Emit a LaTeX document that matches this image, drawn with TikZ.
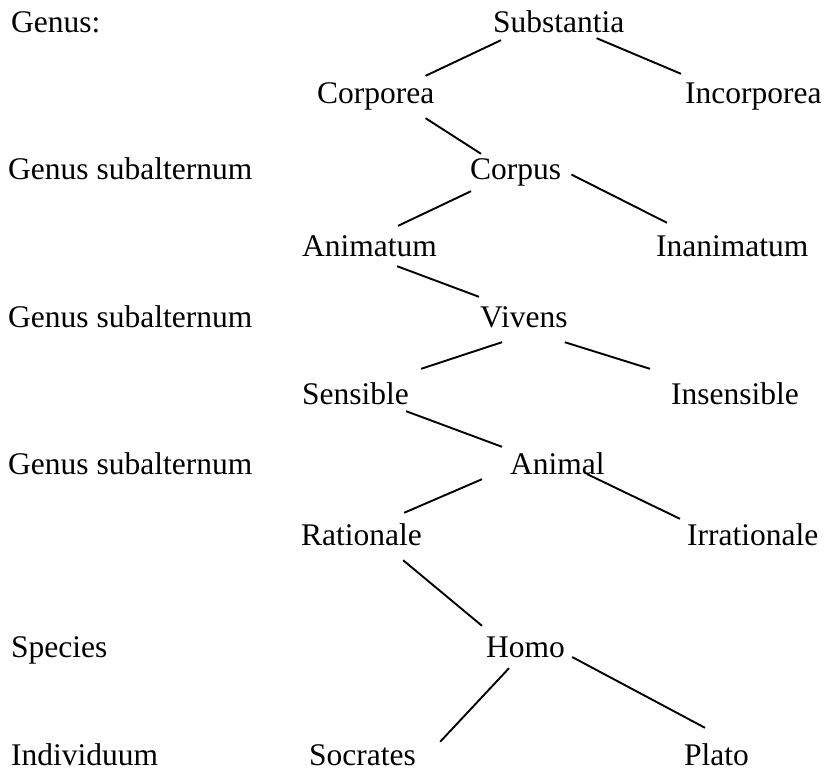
\documentclass[tikz,border=0pt]{standalone}
\usepackage{fontspec}
\setmainfont{Liberation Serif}
\usetikzlibrary{positioning,calc}

\begin{document}
\begin{tikzpicture}[x=1pt,y=-1pt,
    term/.style={inner sep=0pt,anchor=base west,text height=22pt,text depth=7pt,
      font=\fontsize{31.5}{38}\selectfont},
    branch/.style={line width=1.9pt}]
    \useasboundingbox (0,0) rectangle (825,772);

    % Left column: grades
    \node[term] (genus)  at (11,32)  {Genus:};
    \node[term] (gsubA)  at (8,179)  {Genus subalternum};
    \node[term] (gsubB)  at (8,327)  {Genus subalternum};
    \node[term] (gsubC)  at (8,474)  {Genus subalternum};
    \node[term] (species) at (11,657) {Species};
    \node[term] (indiv)  at (11,765) {Individuum};

    % The tree
    \node[term] (subst)      at (493,32)  {Substantia};
    \node[term] (corporea)   at (317,103) {Corporea};
    \node[term] (incorporea) at (685,103) {Incorporea};
    \node[term] (corpus)     at (470,179) {Corpus};
    \node[term] (animatum)   at (302,256) {Animatum};
    \node[term] (inanimatum) at (656,256) {Inanimatum};
    \node[term] (vivens)     at (480,327) {Vivens};
    \node[term] (sensibile)  at (302,404) {Sensible};
    \node[term] (insensibile) at (671,404) {Insensible};
    \node[term] (animal)     at (510,474) {Animal};
    \node[term] (rationale)  at (301,545) {Rationale};
    \node[term] (irrationale) at (687,545) {Irrationale};
    \node[term] (homo)       at (486,657) {Homo};
    \node[term] (socrates)   at (309,765) {Socrates};
    \node[term] (plato)      at (684,765) {Plato};

    % Branches
    \draw[branch] ([shift={(8,1)}]subst.south west) -- ([shift={(-9,-5)}]corporea.north east);
    \draw[branch] ([shift={(-28,-1)}]subst.south east) -- ([shift={(-4,-7)}]incorporea.north west);
    \draw[branch] ([shift={(-9,8)}]corporea.south east) -- ([shift={(11,-3)}]corpus.north west);
    \draw[branch] ([shift={(10,3)}]corpus.east) -- ([shift={(11,-11)}]inanimatum.north west);
    \draw[branch] ([shift={(1,5)}]corpus.south west) -- ([shift={(-39,-8)}]animatum.north east);
    \draw[branch] ([shift={(-40,3)}]animatum.south east) -- ([shift={(-1,-8)}]vivens.north west);
    \draw[branch] ([shift={(22,8)}]vivens.south west) -- ([shift={(12,-13)}]sensibile.north east);
    \draw[branch] ([shift={(-3,8)}]vivens.south east) -- ([shift={(-21,-13)}]insensibile.north west);
    \draw[branch] ([shift={(-3,0)}]sensibile.south east) -- ([shift={(-8,-5)}]animal.north west);
    \draw[branch] ([shift={(-18,0)}]animal.base east) -- ([shift={(-7,-4)}]irrationale.north west);
    \draw[branch] ([shift={(-28,-2)}]animal.south west) -- ([shift={(-18,-10)}]rationale.north east);
    \draw[branch] ([shift={(-19,8)}]rationale.south east) -- ([shift={(-4,-9)}]homo.north west);
    \draw[branch] ([shift={(7,0)}]homo.base east) -- ([shift={(21,-15)}]plato.north west);
    \draw[branch] ([shift={(23,4)}]homo.south west) -- ([shift={(24,-1)}]socrates.north east);
\end{tikzpicture}
\end{document}
